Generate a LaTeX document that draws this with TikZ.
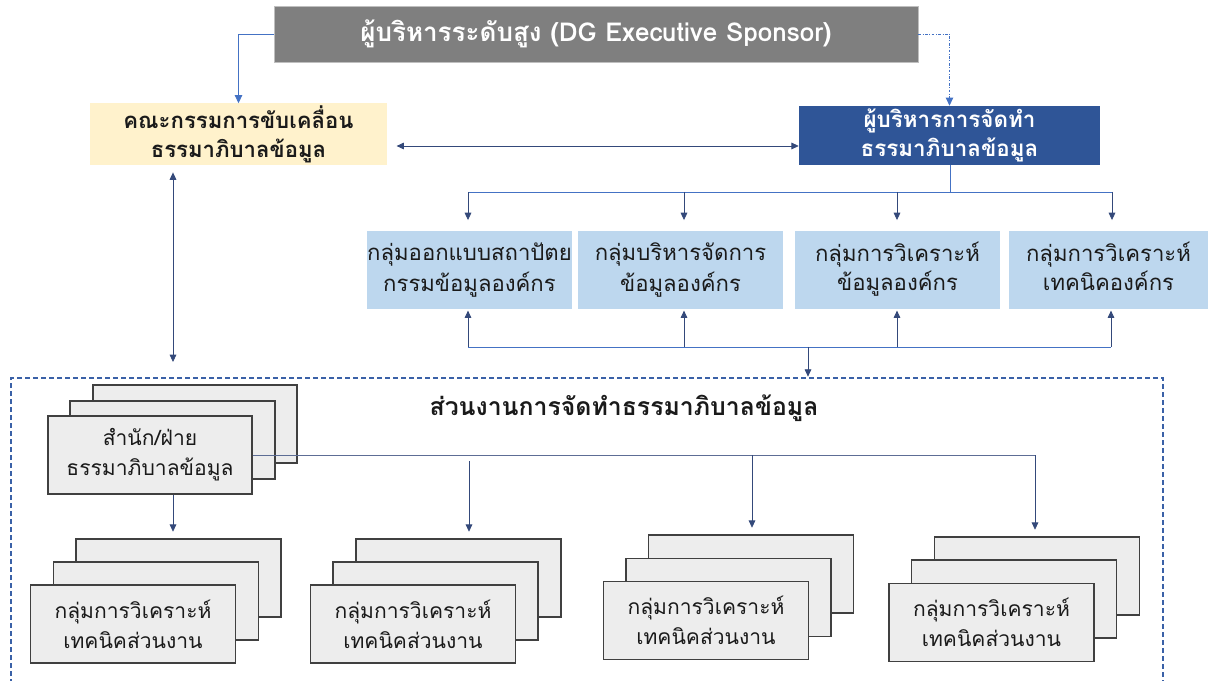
\documentclass[tikz,border=0pt]{standalone}
\usepackage{fontspec}
\setmainfont[Script=Thai]{Loma}
\usetikzlibrary{arrows.meta}
\definecolor{hdrgray}{HTML}{7F7F7F}
\definecolor{hdredge}{HTML}{BFBFBF}
\definecolor{yel}{HTML}{FFF2CC}
\definecolor{navybox}{HTML}{2F5597}
\definecolor{lblue}{HTML}{BDD7EE}
\definecolor{stackfill}{HTML}{EDEDED}
\definecolor{stackedge}{HTML}{404040}
\definecolor{linkblue}{HTML}{4472C4}
\definecolor{arrnavy}{HTML}{34497A}
\definecolor{txt}{HTML}{1A1A1A}
\tikzset{
  base/.style={inner sep=0pt, align=center, text=txt},
  hdrbox/.style={base, fill=hdrgray, draw=hdredge, line width=0.6pt, text=white,
     font={\fontsize{19.5}{24}\selectfont\bfseries}},
  yelbox/.style={base, fill=yel, font={\fontsize{16.6}{22}\selectfont\bfseries}},
  navbox/.style={base, fill=navybox, text=white, font={\fontsize{16.8}{22}\selectfont\bfseries}},
  lbbox/.style={base, fill=lblue, minimum height=78*0.75pt, font={\fontsize{16.6}{23}\selectfont}},
  stackbox/.style={base, fill=stackfill, draw=stackedge, line width=0.9pt,
     minimum width=205*0.75pt, minimum height=78*0.75pt, font={\fontsize{15.8}{22.5}\selectfont}},
  link/.style={draw=linkblue, line width=0.7pt},
  arr/.style={draw=arrnavy, line width=0.6pt, -{Triangle[width=5pt,length=5.5pt]}},
  darr/.style={draw=arrnavy, line width=0.6pt, {Triangle[width=5pt,length=5.5pt]}-{Triangle[width=5pt,length=5.5pt]}},
  larr/.style={draw=linkblue, line width=0.7pt, -{Triangle[width=5.5pt,length=6pt]}},
  dotarr/.style={draw=linkblue, line width=0.6pt, dash pattern=on 2pt off 1.2pt on 0.6pt off 1.2pt, -{Triangle[width=5.5pt,length=6pt]}},
  contbox/.style={draw=linkblue!85!black, line width=1pt, dash pattern=on 3.5pt off 2.5pt},
}
\begin{document}
\begin{tikzpicture}[x=0.75pt,y=-0.75pt]
\useasboundingbox (0,0) rectangle (1208,681);

% top level
\node[hdrbox, minimum width=644*0.75pt, minimum height=56*0.75pt] (hdr) at (596,34) {\raisebox{3pt}{ผู้บริหารระดับสูง (DG Executive Sponsor)}};
\node[yelbox, minimum width=297*0.75pt, minimum height=62*0.75pt] (com) at (238.5,134.5) {คณะกรรมการขับเคลื่อน\\ธรรมาภิบาลข้อมูล};
\node[navbox, minimum width=301*0.75pt, minimum height=59*0.75pt] (mgr) at (949.5,135.5) {ผู้บริหารการจัดทำ\\ธรรมาภิบาลข้อมูล};

\draw[larr] (hdr.west) -| (com.north);
\draw[dotarr] (hdr.east) -| (mgr.north);
\coordinate (rowA) at (0,146);
\draw[darr, shorten <=7pt] (com.east |- rowA) -- (mgr.west |- rowA);

% group boxes
\node[lbbox, minimum width=205*0.75pt] (g1) at (469.5,270) {กลุ่มออกแบบสถาปัตย\\กรรมข้อมูลองค์กร};
\node[lbbox, minimum width=205*0.75pt] (g2) at (680.5,270) {กลุ่มบริหารจัดการ\\ข้อมูลองค์กร};
\node[lbbox, minimum width=205*0.75pt] (g3) at (897.5,270) {\raisebox{5pt}{\shortstack{กลุ่มการวิเคราะห์\\ข้อมูลองค์กร}}};
\node[lbbox, minimum width=199*0.75pt] (g4) at (1108.5,270) {\raisebox{5pt}{\shortstack{กลุ่มการวิเคราะห์\\เทคนิคองค์กร}}};

\coordinate (jtop) at (950,192);
\coordinate (t1) at (468,192);
\coordinate (t2) at (684,192);
\coordinate (t3) at (897,192);
\coordinate (t4) at (1112,192);
\draw[link] (mgr.south -| jtop) -- (jtop);
\draw[link] (t1) -- (t4);
\draw[arr, shorten >=8pt] (t1) -- (t1 |- g1.north);
\draw[arr, shorten >=8pt] (t2) -- (t2 |- g2.north);
\draw[arr, shorten >=8pt] (t3) -- (t3 |- g3.north);
\draw[arr, shorten >=8pt] (t4) -- (t4 |- g4.north);

\coordinate (b1) at (468,347);
\coordinate (b2) at (684,347);
\coordinate (b3) at (897,347);
\coordinate (b4) at (1111,347);
\coordinate (bm) at (808,347);
\draw[link] (b1) -- (b4);
\draw[arr, shorten >=1pt] (b1) -- (b1 |- g1.south);
\draw[arr, shorten >=1pt] (b2) -- (b2 |- g2.south);
\draw[arr, shorten >=1pt] (b3) -- (b3 |- g3.south);
\draw[arr, shorten >=1pt] (b4) -- (b4 |- g4.south);

% container
\draw[contbox] (11,700) -- (11,378) coordinate (cTL) -- (1163,378) coordinate (cTR) -- (1163,700);
\coordinate (cN) at (808,378);
\draw[arr, shorten >=1pt] (bm) -- (cN);
\coordinate (xl) at (173,0);
\draw[darr, shorten <=5pt, shorten >=12pt] (xl |- com.south) -- (xl |- cN);

\node[base, font={\fontsize{18.6}{22}\selectfont\bfseries}] (title) at (624,408) {ส่วนงานการจัดทำธรรมาภิบาลข้อมูล};

% office stack
\node[stackbox, minimum width=204*0.75pt] (o3) at (195,424) {};
\node[stackbox] (o2) at (172.5,440) {};
\node[stackbox, minimum width=204*0.75pt] (o1) at (150,455) {สำนัก/ฝ่าย\\ธรรมาภิบาลข้อมูล};

% unit stacks
\node[stackbox] (a3) at (178.5,578) {};
\node[stackbox] (a2) at (156,601) {};
\node[stackbox] (a1) at (133,624) {กลุ่มการวิเคราะห์\\เทคนิคส่วนงาน};

\node[stackbox] (b3n) at (458.5,578) {};
\node[stackbox] (b2n) at (435.5,601) {};
\node[stackbox] (b1n) at (413,624) {กลุ่มการวิเคราะห์\\เทคนิคส่วนงาน};

\node[stackbox] (c3) at (751,574) {};
\node[stackbox] (c2) at (728.5,597.5) {};
\node[stackbox] (c1) at (706,620.5) {กลุ่มการวิเคราะห์\\เทคนิคส่วนงาน};

\node[stackbox] (d3) at (1037,576) {};
\node[stackbox] (d2) at (1014,599) {};
\node[stackbox] (d1) at (991.5,622.5) {กลุ่มการวิเคราะห์\\เทคนิคส่วนงาน};

% office links
\coordinate (oy) at (0,455);
\coordinate (u2) at (469,455);
\coordinate (u3) at (752,455);
\coordinate (u4) at (1035,455);
\draw[link, draw=arrnavy!80] (o1.east |- oy) -- (u4);
\draw[arr, shorten >=5pt] (xl |- o1.south) -- (xl |- a3.north);
\draw[arr, shorten >=5pt] (469,461) coordinate (u2s) -- (u2s |- b3n.north);
\draw[arr, shorten >=5pt] (u3) -- (u3 |- c3.north);
\draw[arr, shorten >=5pt] (u4) -- (u4 |- d3.north);
\end{tikzpicture}
\end{document}
